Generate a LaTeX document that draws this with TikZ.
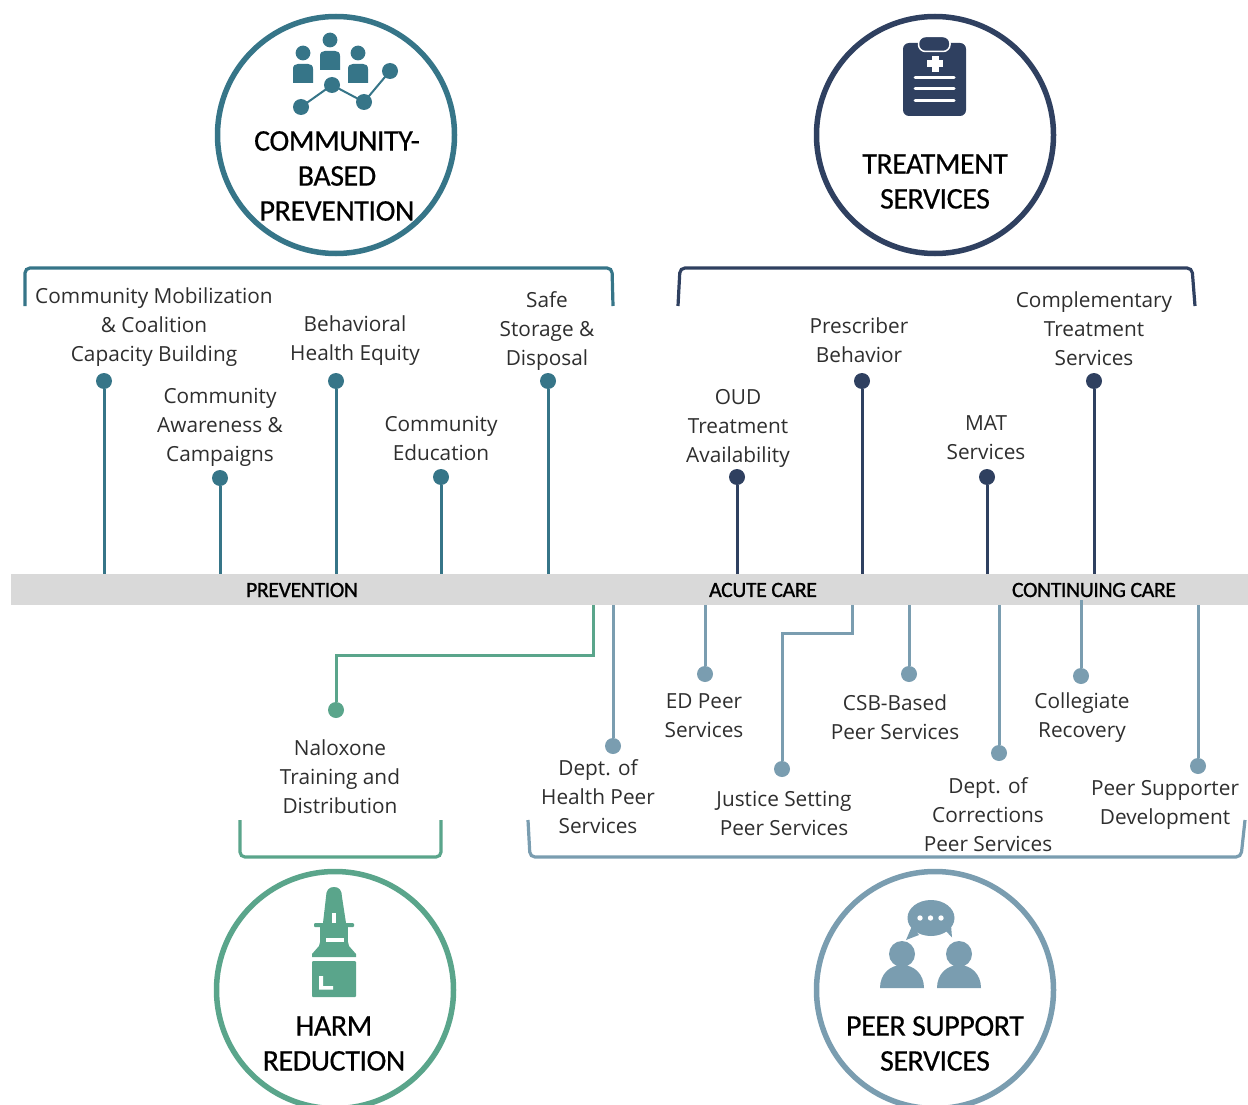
\documentclass[tikz,border=0pt]{standalone}
\usepackage{fontspec}
\setmainfont{Open Sans}
\newfontfamily\titlefont[LetterSpace=-1.5,FakeBold=0.4]{Carlito}
\newfontfamily\barfont[LetterSpace=-1.8,FakeBold=1.0]{Carlito}
\definecolor{cteal}{HTML}{367588}
\definecolor{cnavy}{HTML}{2F4060}
\definecolor{cgreen}{HTML}{5AA58B}
\definecolor{cslate}{HTML}{7A9DB0}
\definecolor{cbar}{HTML}{D9D9D9}
\tikzset{
  ring/.style={circle,draw=#1,line width=5.5pt,fill=white,minimum size=237pt,inner sep=0pt},
  ttl/.style={font=\titlefont\fontsize{30}{35}\selectfont,align=center,inner sep=0pt,text=black},
  lbl/.style={font=\fontsize{20.8}{29}\selectfont,align=center,inner sep=0pt,text=black!82},
  barlbl/.style={font=\barfont\fontsize{21.8}{26}\selectfont,inner sep=0pt,text=black},
  dot/.style={circle,fill=#1,inner sep=0pt,minimum size=16pt},
  conn/.style={draw=#1,line width=3pt},
  brk/.style={draw=#1,line width=3.2pt,rounded corners=5pt},
}
\begin{document}
\begin{tikzpicture}[x=1pt,y=-1pt]
\useasboundingbox (0,0) rectangle (1248,1105);
% bar
\node[fill=cbar,minimum width=1237pt,minimum height=31pt,inner sep=0pt] (bar) at (629.5,589.5) {};
\node[barlbl] (lprev) at (302,590) {PREVENTION};
\node[barlbl] (lacute) at (763,590) {ACUTE CARE};
\node[barlbl] (lcont) at (1094,590) {CONTINUING CARE};
% rings
\node[ring=cteal] (r1) at (336,135) {};
\node[ring=cnavy] (r2) at (935,135) {};
\node[ring=cgreen] (r3) at (335,990) {};
\node[ring=cslate] (r4) at (935,990) {};
\node[ttl] (t1) at (337,176) {COMMUNITY-\\BASED\\PREVENTION};
\node[ttl] (t2) at (935,181.5) {TREATMENT\\SERVICES};
\node[ttl] (t3) at (334,1043.5) {HARM\\REDUCTION};
\node[ttl] (t4) at (935,1043.5) {PEER SUPPORT\\SERVICES};
% brackets
\draw[brk=cteal] (25,306) -- (25,268) -- (612,268) -- (613,306);
\draw[brk=cnavy] (678,306) -- (680,268) -- (1192,268) -- (1195,306);
\draw[brk=cgreen] (240,820) -- (240,857) -- (441,857) -- (441,820);
\draw[brk=cslate] (528,820) -- (530,857) -- (1241,857) -- (1245,820);
% top dots
\foreach \n/\x/\y in {a/104/381,b/220/478,c/336/381,d/441/477,e/548/381}{
  \node[dot=cteal] (\n) at (\x,\y) {};
  \draw[conn=cteal] (\n) -- (\n |- bar.north);
}
\foreach \n/\x/\y in {f/737/477,g/862/381,h/987/477,i/1094/381}{
  \node[dot=cnavy] (\n) at (\x,\y) {};
  \draw[conn=cnavy] (\n) -- (\n |- bar.north);
}
% bottom dots
\node[dot=cgreen] (j) at (336,710) {};
\coordinate (jb) at (593,605);
\draw[conn=cgreen] (jb) -- (593,655) -- (336,655) -- (j);
\foreach \n/\x/\y in {k/613/746,l/705/674,n/909/674,o/999/753,q/1198/766}{
  \node[dot=cslate] (\n) at (\x,\y) {};
  \draw[conn=cslate] (\n) -- (\n |- bar.south);
}
\node[dot=cslate] (p) at (1081,676) {};
\coordinate (pb) at (1081,600);
\draw[conn=cslate] (p) -- (pb);
\node[dot=cslate] (m) at (782,769) {};
\coordinate (mb) at (852,605);
\draw[conn=cslate] (mb) -- (852,633) -- (782,633) -- (m);
% labels
\node[lbl] (la) at (154,327) {Community Mobilization\\\& Coalition\\Capacity Building};
\node[lbl] (lb) at (220,427) {Community\\Awareness \&\\Campaigns};
\node[lbl] (lc) at (355,341) {Behavioral\\Health Equity};
\node[lbl] (ld) at (441,438.5) {Community\\Education};
\node[lbl] (le) at (547,331) {Safe\\Storage \&\\Disposal};
\node[lbl] (lf) at (738,428) {OUD\\Treatment\\Availability};
\node[lbl] (lg) at (859,340) {Prescriber\\Behavior};
\node[lbl] (lh) at (986,438) {MAT\\Services};
\node[lbl] (li) at (1094,328.5) {Complementary\\Treatment\\Services};
\node[lbl] (lj) at (340,777) {Naloxone\\Training and\\Distribution};
\node[lbl] (lk) at (598,797) {Dept. of\\Health Peer\\Services};
\node[lbl] (ll) at (704,716) {ED Peer\\Services};
\node[lbl] (lm) at (784,813.5) {Justice Setting\\Peer Services};
\node[lbl] (ln) at (895,717) {CSB-Based\\Peer Services};
\node[lbl] (lo) at (988,815) {Dept. of\\Corrections\\Peer Services};
\node[lbl] (lp) at (1082,718) {Collegiate\\Recovery};
\node[lbl] (lq) at (1165,805) {Peer Supporter\\Development};
% icon community
\foreach \x/\y in {303/53,330/40,358/53}{
  \fill[cteal] (\x,\y) circle[radius=7.4pt];
  \fill[cteal] (\x-10,\y+30) -- (\x-10,\y+16) .. controls (\x-10,\y+12.5) and (\x-8,\y+11) .. (\x-5,\y+11) -- (\x+5,\y+11) .. controls (\x+8,\y+11) and (\x+10,\y+12.5) .. (\x+10,\y+16) -- (\x+10,\y+30) -- cycle;
}
\draw[cteal,line width=2pt] (301,107) -- (332,85) -- (364,102) -- (390,71);
\foreach \x/\y in {301/107,332/85,364/102,390/71}{\fill[cteal] (\x,\y) circle[radius=8pt];}
% icon clipboard
\fill[cnavy,rounded corners=6pt] (903,43) rectangle (966,116);
\fill[cnavy,draw=white,line width=1.5pt,rounded corners=7pt] (918.5,36.5) rectangle (950,51.5);
\fill[white] (931.5,56) rectangle (938.5,72);
\fill[white] (927,60.5) rectangle (943,67.5);
\foreach \y in {78,89,101}{\draw[white,line width=3pt,line cap=round] (915,\y) -- (954,\y);}
% icon bottle
\fill[cgreen] (323,923) -- (326,897) .. controls (326,890) and (329,887) .. (334,887) .. controls (339,887) and (342,890) .. (342,897) -- (346,923) -- cycle;
\fill[white] (332,913) rectangle (336,923.5);
\fill[cgreen,rounded corners=1pt] (314,923) rectangle (354,927);
\fill[cgreen] (320,927) rectangle (348,938);
\fill[cgreen] (320,938) rectangle (326,942);
\fill[cgreen] (344,938) rectangle (348,942);
\fill[cgreen] (320,942) -- (348,942) -- (349,946) -- (356,954) -- (356,957) -- (312,957) -- (312,954) -- (319,946) -- cycle;
\fill[cgreen,rounded corners=1pt] (312,961) rectangle (356,997);
\fill[white] (319,976) -- (323,976) -- (323,986) -- (333,986) -- (333,989.5) -- (319,989.5) -- cycle;
% icon peers
\fill[cslate] (931,918) ellipse[x radius=23.5pt,y radius=18pt];
\fill[cslate] (912,926) -- (906,940) -- (919,935) -- cycle;
\fill[cslate] (945,930) -- (952,937.5) -- (951,925) -- cycle;
\foreach \x in {920,930.5,941}{\fill[white] (\x,918) circle[radius=2.7pt];}
\foreach \x in {902,959}{
  \fill[cslate] (\x,954) circle[radius=13pt];
  \fill[cslate] (\x-22,988) .. controls (\x-22,974) and (\x-12,965) .. (\x,965) .. controls (\x+12,965) and (\x+22,974) .. (\x+22,988) -- cycle;
}
\end{tikzpicture}
\end{document}
